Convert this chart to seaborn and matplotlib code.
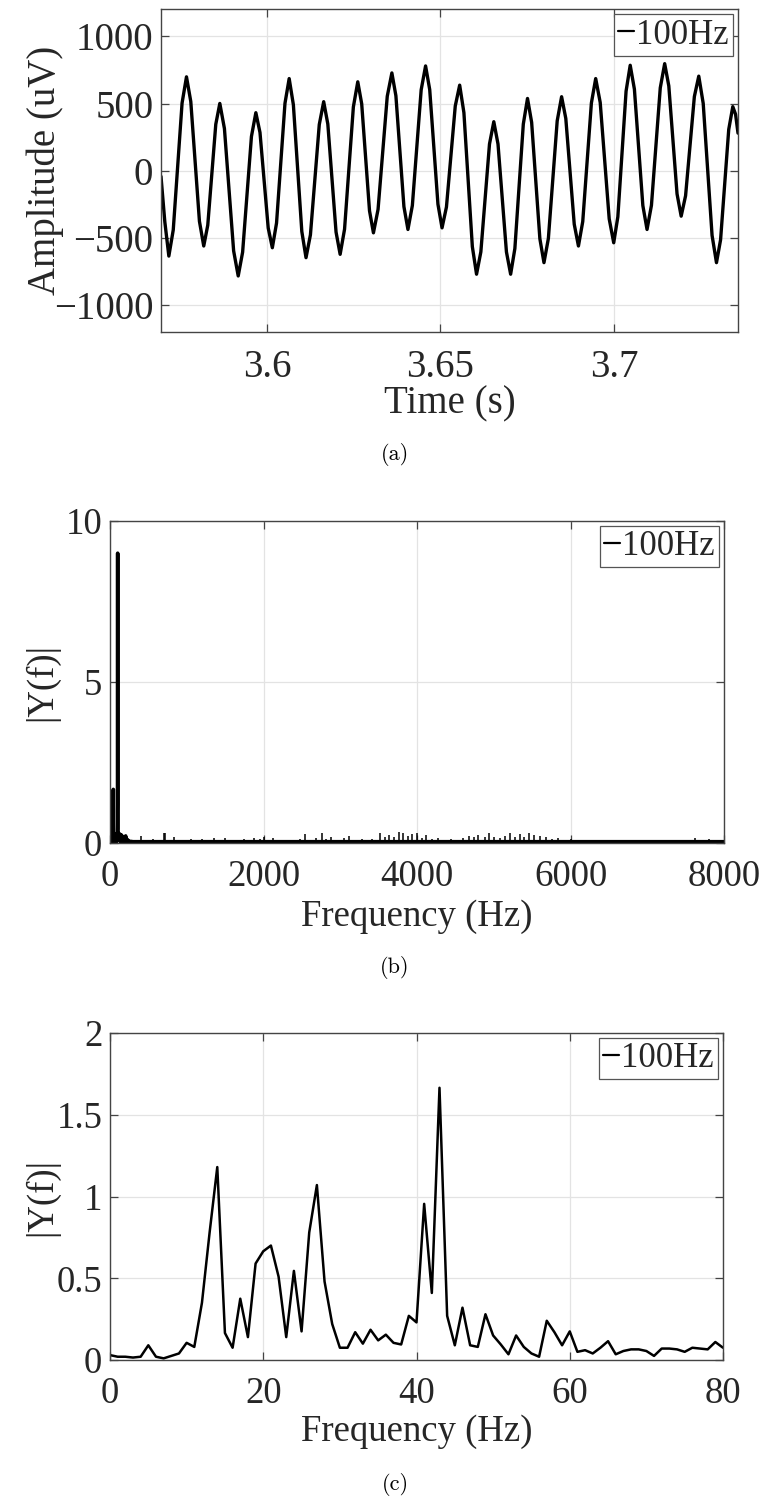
import numpy as np
import matplotlib
matplotlib.use("Agg")
import matplotlib.pyplot as plt
import seaborn as sns

# ---------------- data ----------------
# (a) time signal: time offsets (ms after 3569.5 ms) and amplitude (uV)
T0_MS = 3569.5
a_offset_ms = [0, 1.1, 2.26,
               3.53, 4.80, 6.07, 7.34,
               8.58, 9.83, 11.07, 12.31,
               13.47, 14.63, 15.78, 16.94,
               18.27, 19.59, 20.92, 22.24,
               23.51, 24.78, 26.05, 27.32,
               28.51, 29.70, 30.88, 32.07,
               33.28, 34.50, 35.71, 36.92,
               38.13, 39.35, 40.56, 41.77,
               43.04, 44.32, 45.59, 46.86,
               48.05, 49.23, 50.42, 51.60,
               52.87, 54.14, 55.41, 56.68,
               57.81, 58.94, 60.06, 61.19,
               62.52, 63.85, 65.17, 66.50,
               67.66, 68.82, 69.97, 71.13,
               72.40, 73.67, 74.94, 76.21,
               77.40, 78.58, 79.77, 80.95,
               82.22, 83.49, 84.76, 86.03,
               87.25, 88.46, 89.68, 90.89,
               92.13, 93.38, 94.62, 95.86,
               97.07, 98.29, 99.50, 100.71,
               101.93, 103.14, 104.36, 105.57,
               106.76, 107.94, 109.13, 110.31,
               111.58, 112.85, 114.12, 115.39,
               116.60, 117.82, 119.03, 120.24,
               121.48, 122.73, 123.97, 125.21,
               126.51, 127.81, 129.10, 130.40,
               131.59, 132.78, 133.96, 135.15,
               136.36, 137.58, 138.79, 140.00,
               141.27, 142.54, 143.81, 145.08,
               146.27, 147.46, 148.64, 149.83,
               151.10, 152.37, 153.63, 154.90,
               156.18, 157.45, 158.73, 160.00,
               161.18, 162.35, 163.53, 164.70,
               165.5, 166.2]
a_amp_uv = [-42, -380, -635,
            -440, 32, 504, 699,
            515, 70, -376, -560,
            -405, -30, 346, 501,
            314, -141, -596, -783,
            -606, -176, 255, 432,
            285, -71, -426, -573,
            -389, 57, 502, 686,
            491, 20, -452, -647,
            -477, -66, 344, 514,
            348, -54, -456, -622,
            -435, 20, 475, 662,
            498, 100, -298, -462,
            -288, 133, 554, 728,
            558, 146, -267, -437,
            -259, 172, 602, 780,
            604, 178, -249, -425,
            -270, 106, 482, 637,
            432, -67, -565, -770,
            -604, -203, 199, 365,
            199, -203, -604, -770,
            -579, -116, 347, 538,
            360, -73, -506, -684,
            -504, -67, 371, 551,
            389, -4, -398, -560,
            -378, 63, 504, 686,
            508, 75, -358, -536,
            -343, 125, 592, 785,
            607, 174, -259, -437,
            -257, 180, 617, 797,
            631, 230, -172, -338,
            -186, 183, 552, 704,
            501, 10, -481, -684,
            -514, -104, 307, 477,
            420, 280]

# (c) single-sided spectrum 0..80 Hz
c_freq_hz = list(range(0, 81))
c_mag = [0.03, 0.02, 0.02, 0.015, 0.02, 0.09, 0.02, 0.01, 0.025, 0.04,
         0.105, 0.08, 0.35, 0.78, 1.18, 0.165, 0.075, 0.375, 0.14, 0.59,
         0.665, 0.70, 0.51, 0.14, 0.545, 0.175, 0.78, 1.07, 0.48, 0.22,
         0.075, 0.075, 0.17, 0.10, 0.185, 0.12, 0.155, 0.105, 0.095, 0.27,
         0.23, 0.955, 0.41, 1.665, 0.27, 0.09, 0.32, 0.09, 0.08, 0.28,
         0.15, 0.095, 0.035, 0.15, 0.08, 0.04, 0.02, 0.24, 0.17, 0.09,
         0.175, 0.05, 0.06, 0.04, 0.075, 0.115, 0.035, 0.055, 0.065, 0.065,
         0.055, 0.025, 0.07, 0.07, 0.065, 0.05, 0.075, 0.07, 0.065, 0.11,
         0.075]

# (b) full spectrum: low band beyond 80 Hz, then floor with small spikes
b_low_freq = [82, 85, 88, 91, 94, 97, 99, 100, 101, 103, 106, 110, 114, 118,
              122, 127, 132, 137, 142, 148, 154, 160, 167, 174, 181, 188, 196,
              204, 212, 220, 230, 240, 255, 270, 300, 8000]
b_low_mag = [0.05, 0.15, 0.08, 0.3, 0.12, 0.45, 1.2, 9.0, 1.0, 0.25, 0.12, 0.3,
             0.08, 0.22, 0.1, 0.28, 0.05, 0.2, 0.06, 0.25, 0.04, 0.18, 0.06,
             0.2, 0.03, 0.15, 0.05, 0.22, 0.04, 0.12, 0.03, 0.08, 0.03, 0.05,
             0.04, 0.04]
b_spike_freq = [400, 470, 560, 640, 700, 720, 780, 830, 880, 950, 1050, 1120,
                1200, 1280, 1350, 1420, 1500, 1570, 1650, 1740, 1810, 1880,
                1950, 2000, 2060, 2130, 2220, 2300, 2400, 2480, 2540, 2600,
                2680, 2760, 2820, 2880, 2960, 3050, 3120, 3200, 3280, 3350,
                3420, 3520, 3580, 3640, 3700, 3760, 3820, 3880, 3940, 4000,
                4060, 4120, 4200, 4280, 4360, 4440, 4520, 4600, 4680, 4740,
                4800, 4880, 4940, 5000, 5080, 5150, 5210, 5280, 5340, 5400,
                5460, 5530, 5600, 5680, 5760, 5840, 5920, 6000, 6080, 6200,
                6350, 6500, 6650, 6800, 6950, 7100, 7250, 7400, 7550, 7620,
                7700, 7800, 7900, 7960]
b_spike_mag = [0.22, 0.08, 0.12, 0.1, 0.3, 0.32, 0.08, 0.18, 0.1, 0.08, 0.12,
               0.1, 0.13, 0.1, 0.14, 0.1, 0.15, 0.08, 0.06, 0.12, 0.1, 0.15,
               0.12, 0.18, 0.1, 0.14, 0.05, 0.06, 0.08, 0.12, 0.28, 0.1, 0.15,
               0.3, 0.12, 0.2, 0.1, 0.14, 0.22, 0.1, 0.12, 0.08, 0.12, 0.3,
               0.2, 0.25, 0.18, 0.33, 0.3, 0.22, 0.28, 0.3, 0.15, 0.25, 0.12,
               0.15, 0.1, 0.12, 0.08, 0.15, 0.22, 0.18, 0.25, 0.18, 0.3, 0.2,
               0.15, 0.22, 0.32, 0.2, 0.28, 0.18, 0.3, 0.25, 0.22, 0.2, 0.12,
               0.15, 0.1, 0.12, 0.08, 0.05, 0.04, 0.06, 0.05, 0.07, 0.06, 0.08,
               0.07, 0.1, 0.08, 0.14, 0.09, 0.13, 0.08, 0.1]
b_floor = 0.04

legend_label = "100Hz"
a_xticks = [3.6, 3.65, 3.7]
a_xticklabels = ["3.6", "3.65", "3.7"]
a_yticks = [-1000, -500, 0, 500, 1000]
b_xticks = [0, 2000, 4000, 6000, 8000]
b_yticks = [0, 5, 10]
c_xticks = [0, 20, 40, 60, 80]
c_yticks = [0, 0.5, 1, 1.5, 2]
c_yticklabels = ["0", "0.5", "1", "1.5", "2"]

# ---------------- style ----------------
sns.set_theme(style="white")
plt.rcParams["font.family"] = ["Liberation Serif", "DejaVu Serif"]
plt.rcParams["axes.unicode_minus"] = True

W, H = 765, 1501
fig = plt.figure(figsize=(W / 100, H / 100), dpi=100)
fig.patch.set_facecolor("white")


def box(l, t, r, b):
    return [l / W, 1 - b / H, (r - l) / W, (b - t) / H]


AX_A = (161, 9.5, 738, 332)
AX_B = (110, 521, 724, 843)
AX_C = (110, 1033, 723, 1360)
ax_a = fig.add_axes(box(*AX_A))
ax_b = fig.add_axes(box(*AX_B))
ax_c = fig.add_axes(box(*AX_C))

edge = "#444444"


def style_axes(ax, tick_fs):
    ax.set_facecolor("white")
    for s in ax.spines.values():
        s.set_color(edge)
        s.set_linewidth(1.0)
        s.set_visible(True)
    ax.grid(True, color="#e3e3e3", linewidth=0.9)
    ax.set_axisbelow(True)
    ax.tick_params(direction="in", length=6, width=0.9, colors=edge,
                   labelcolor="#262626", labelsize=tick_fs,
                   top=True, right=True, bottom=True, left=True)
    ax.tick_params(axis="x", pad=12)
    ax.tick_params(axis="y", pad=5.5)


def style_legend(ax):
    leg = ax.legend(loc="upper right", fontsize=25, handlelength=0.45,
                    handletextpad=0.08, borderpad=0.12, borderaxespad=0.14,
                    fancybox=False, framealpha=1, edgecolor="#555555")
    leg.get_frame().set_linewidth(0.9)
    for ln in leg.get_lines():
        ln.set_linewidth(1.6)
    return leg


def place_labels(ax, rect, xlabel_px_below, ylabel_x_px):
    l, t, r, b = rect
    ax.xaxis.set_label_coords(0.5, -xlabel_px_below / (b - t))
    ax.yaxis.set_label_coords((ylabel_x_px - l) / (r - l), 0.5)
    ax.xaxis.label.set_va("center")
    ax.yaxis.label.set_va("center")


# (a)
time_s = (T0_MS + np.array(a_offset_ms)) / 1000.0
sns.lineplot(x=time_s, y=a_amp_uv, ax=ax_a, color="black", linewidth=2.4,
             sort=False, estimator=None, label=legend_label)
style_axes(ax_a, 28)
ax_a.set_xlim(3.5695, 3.7357)
ax_a.set_ylim(-1200, 1200)
ax_a.set_xticks(a_xticks)
ax_a.set_xticklabels(a_xticklabels)
ax_a.set_yticks(a_yticks)
ax_a.set_xlabel("Time (s)", fontsize=28)
ax_a.set_ylabel("Amplitude (uV)", fontsize=28)
place_labels(ax_a, AX_A, 72, 45)
style_legend(ax_a)

# (b)
b_freq = c_freq_hz + b_low_freq
b_mag = c_mag + b_low_mag
sns.lineplot(x=b_freq, y=b_mag, ax=ax_b, color="black", linewidth=2.6,
             sort=False, estimator=None, label=legend_label)
ax_b.vlines(b_spike_freq, b_floor, b_spike_mag, color="black", linewidth=1.1)
style_axes(ax_b, 26.5)
ax_b.set_xlim(0, 8000)
ax_b.set_ylim(0, 10)
ax_b.set_xticks(b_xticks)
ax_b.set_yticks(b_yticks)
ax_b.set_xlabel("Frequency (Hz)", fontsize=26.5)
ax_b.set_ylabel("|Y(f)|", fontsize=26.5)
place_labels(ax_b, AX_B, 74, 42)
style_legend(ax_b)

# (c)
sns.lineplot(x=c_freq_hz, y=c_mag, ax=ax_c, color="black", linewidth=1.8,
             sort=False, estimator=None, label=legend_label)
style_axes(ax_c, 26.5)
ax_c.set_xlim(0, 80)
ax_c.set_ylim(0, 2)
ax_c.set_xticks(c_xticks)
ax_c.set_yticks(c_yticks)
ax_c.set_yticklabels(c_yticklabels)
ax_c.set_xlabel("Frequency (Hz)", fontsize=26.5)
ax_c.set_ylabel("|Y(f)|", fontsize=26.5)
place_labels(ax_c, AX_C, 72, 42)
style_legend(ax_c)

# captions
for txt, y in [("(a)", 455), ("(b)", 968), ("(c)", 1484)]:
    fig.text(395 / W, 1 - y / H, txt, ha="center", va="center",
             fontsize=16, family=["cmr10", "DejaVu Serif"], color="black")

fig.savefig("out.png", dpi=100, facecolor="white")
